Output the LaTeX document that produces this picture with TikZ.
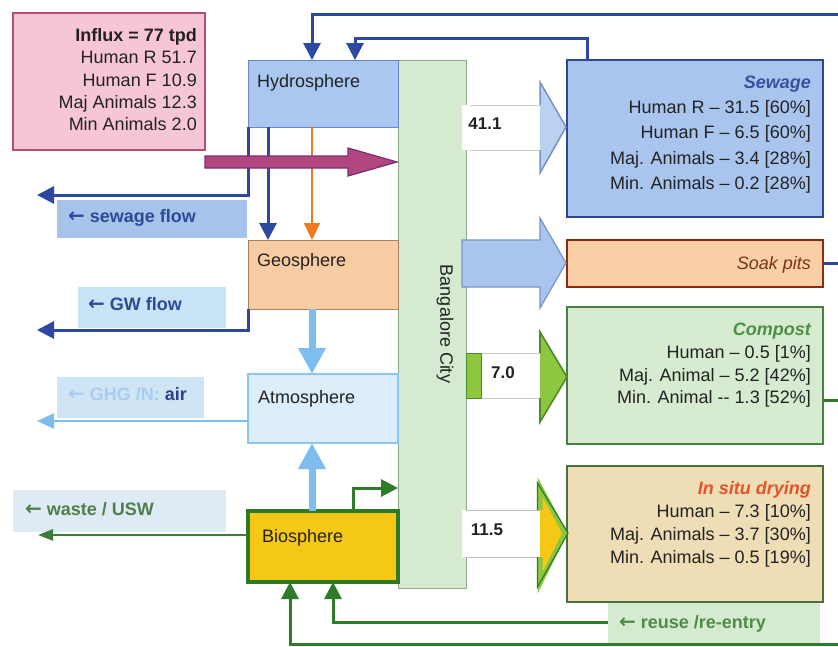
\documentclass[tikz,border=0pt]{standalone}
\usepackage{fontspec}
\setmainfont{Liberation Sans}
\newfontfamily\arrowfont{DejaVu Sans}
\newcommand\myleftarrow{{\arrowfont\fontsize{20}{20}\selectfont ←}}
\usetikzlibrary{arrows.meta}
\definecolor{pinkf}{HTML}{F6C6D7}\definecolor{pinkd}{HTML}{B4506F}
\definecolor{hydrof}{HTML}{A9C7EF}\definecolor{hydrod}{HTML}{6A86BF}
\definecolor{cityf}{HTML}{D5EAD0}\definecolor{cityd}{HTML}{8FA98A}
\definecolor{geof}{HTML}{F8CCA3}\definecolor{geod}{HTML}{A8825F}
\definecolor{atmf}{HTML}{DCEDFB}\definecolor{atmd}{HTML}{8AC6F2}
\definecolor{biof}{HTML}{F5C816}\definecolor{biod}{HTML}{2E7A24}
\definecolor{sewf}{HTML}{A9C5EE}\definecolor{sewd}{HTML}{2D4794}
\definecolor{soakf}{HTML}{F9D0A6}\definecolor{soakd}{HTML}{8A2B12}
\definecolor{compf}{HTML}{D6EBD0}\definecolor{compd}{HTML}{4B7E45}
\definecolor{situf}{HTML}{EEDDB5}\definecolor{situd}{HTML}{46713B}
\definecolor{dblue}{HTML}{2C48A0}\definecolor{orng}{HTML}{F07A22}
\definecolor{lblue}{HTML}{7DBDF0}\definecolor{dgreen}{HTML}{2E7B2B}
\definecolor{ygreen}{HTML}{8DC63F}\definecolor{ygreend}{HTML}{4E8A2A}
\definecolor{sewlf}{HTML}{A6C3EC}\definecolor{gwlf}{HTML}{C8E2F6}
\definecolor{ghglf}{HTML}{CFE5F6}\definecolor{wastelf}{HTML}{DEEBF5}
\definecolor{reuself}{HTML}{D5EBD0}
\definecolor{sewtext}{HTML}{2C4A98}\definecolor{wastetext}{HTML}{4F7E4B}
\definecolor{reusetext}{HTML}{4E8B45}\definecolor{ghgfaint}{HTML}{A8CDEE}
\definecolor{ghgdark}{HTML}{2E3F8F}
\definecolor{sewtitle}{HTML}{3A4FA2}\definecolor{comptitle}{HTML}{4E8F46}
\definecolor{situtitle}{HTML}{E4532B}\definecolor{soaktitle}{HTML}{7B3414}
\definecolor{purf}{HTML}{B2477F}\definecolor{purd}{HTML}{7A2E72}
\definecolor{txtc}{HTML}{222222}
\tikzset{
  sq/.style={draw, anchor=north west, inner sep=0pt, outer sep=0pt},
  lbl/.style={anchor=north west, inner sep=0pt, outer sep=0pt},
  t/.style={font=\fontsize{18}{21}\selectfont, inner sep=0pt, text=txtc},
  tr/.style={t, anchor=base east},
  tl/.style={t, anchor=base west},
  tlab/.style={tl, font=\fontsize{18}{21}\selectfont\bfseries},
  dline/.style={draw=dblue, line width=3pt},
  darr/.style={dline, -{Triangle[length=17pt,width=17pt]}},
  oarr/.style={draw=orng, line width=2pt, -{Triangle[length=17pt,width=16pt]}},
  gline/.style={draw=dgreen, line width=3pt},
  garr/.style={gline, -{Triangle[length=17pt,width=17pt]}},
  warr/.style={draw=dgreen!85!gray, line width=2.5pt, -{Triangle[length=15pt,width=11pt]}},
  larr/.style={draw=lblue, line width=2.5pt, -{Triangle[length=17pt,width=15pt]}},
  bigarr/.style={draw=lblue, line width=7pt, -{Triangle[length=26pt,width=26pt]}},
}
\begin{document}
\begin{tikzpicture}[x=1pt,y=-1pt]
\fill[white] (0,0) rectangle (838,646);
\useasboundingbox (0,0) rectangle (838,646);

% label boxes
\node[lbl, fill=sewlf, minimum width=190pt, minimum height=38pt] (sewlbl) at (57,200) {};
\node[lbl, fill=gwlf, minimum width=148pt, minimum height=41pt] (gwlbl) at (78,287) {};
\node[lbl, fill=ghglf, minimum width=147pt, minimum height=41pt] (ghglbl) at (57,377) {};
\node[lbl, fill=wastelf, minimum width=213pt, minimum height=42pt] (wastelbl) at (13,490) {};
\node[lbl, fill=reuself, minimum width=212pt, minimum height=41pt] (reuselbl) at (608,602) {};

% main boxes
\node[sq, fill=pinkf, draw=pinkd, line width=1.5pt, minimum width=192pt, minimum height=137pt] (influx) at (13,13) {};
\node[sq, fill=cityf, draw=cityd, line width=1pt, minimum width=68pt, minimum height=528pt] (city) at (398,60) {};
\node[sq, fill=hydrof, draw=hydrod, line width=1pt, minimum width=150pt, minimum height=67pt] (hydro) at (248,60) {};
\node[sq, fill=geof, draw=geod, line width=1pt, minimum width=150pt, minimum height=69pt] (geo) at (248,240) {};
\node[sq, fill=atmf, draw=atmd, line width=2pt, minimum width=150pt, minimum height=69pt] (atm) at (248,374) {};
\node[sq, fill=biof, draw=biod, line width=4pt, minimum width=150pt, minimum height=71pt] (bio) at (248,511) {};
\node[sq, fill=sewf, draw=sewd, line width=2.5pt, minimum width=256pt, minimum height=157pt] (sew) at (567,60) {};
\node[sq, fill=soakf, draw=soakd, line width=2.5pt, minimum width=256pt, minimum height=47pt] (soak) at (567,240) {};
\node[sq, fill=compf, draw=compd, line width=2.5pt, minimum width=256pt, minimum height=137pt] (comp) at (567,307) {};
\node[sq, fill=situf, draw=situd, line width=2.5pt, minimum width=256pt, minimum height=136pt] (situ) at (567,466) {};

% connector coordinates
\coordinate (sewend) at (37,195);
\coordinate (gwend) at (37,330);
\coordinate (ghgend) at (37,421);
\coordinate (wasteend) at (38,535);
\coordinate (geoin1) at (268,240);
\coordinate (geoin2) at (312,240);
\coordinate (hin1) at (312,60);
\coordinate (hin2) at (355,60);
\coordinate (topR) at (838,14);
\coordinate (sewtop) at (587,60);
\coordinate (bioout) at (353,511);
\coordinate (cityin) at (398,488);
\coordinate (compR) at (838,400);
\coordinate (bioin1) at (333,582);
\coordinate (bioin2) at (290,582);
\coordinate (botR) at (838,644);

% connectors
\draw[darr] (hydro.south west) |- (sewend);
\draw[darr] (hydro.south -| geoin1) -- (geoin1);
\draw[oarr] (hydro.south -| geoin2) -- (geoin2);
\draw[darr] (geo.south west) |- (gwend);
\draw[bigarr] (geo.south -| geoin2) -- (atm.north -| geoin2);
\draw[bigarr] (bio.north -| geoin2) -- (atm.south -| geoin2);
\draw[larr] (atm.west |- ghgend) -- (ghgend);
\draw[warr] (bio.west |- wasteend) -- (wasteend);
\draw[garr] (bioout) |- (cityin);
\draw[darr] (topR) -| (hin1);
\draw[darr] (sewtop) -- ++(0,-22) -| (hin2);
\draw[dline] (soak.east) -- ++(16,0);
\draw[gline] (compR -| comp.east) -- (compR);
\draw[garr] (reuselbl.west) -| (bioin1);
\draw[garr] (botR) -| (bioin2);

% purple influx arrow
\path[fill=purf, draw=purd, line width=1.2pt, line join=miter]
  (influx.east |- 0,156) -- (348,156) -- (348,148) -- (397,162) -- (348,176) -- (348,168) -- (influx.east |- 0,168) -- cycle;

% block arrow 41.1
\fill[white] (462,105) rectangle (540,150);
\path[draw=black!20, line width=0.8pt] (470,105) -- (540,105) (470,150) -- (540,150);
\path[fill=sewf!80!white, draw=hydrod!90, line width=1.5pt, line join=miter]
  (540,105) -- (540,82) -- (566,127) -- (540,173) -- (540,150);
% block arrow soak pits
\path[fill=sewf, draw=hydrod!90, line width=1.2pt, line join=miter]
  (462,240) -- (540,240) -- (540,218) -- (566,263) -- (540,308) -- (540,287) -- (462,287) -- cycle;
% block arrow 7.0
\fill[white] (466,353) rectangle (540,398);
\draw[black!20, line width=0.8pt] (481,353) -- (540,353) (481,398) -- (540,398);
\path[fill=ygreen, draw=ygreend, line width=1pt] (466,353) rectangle (481,398);
\path[fill=ygreen, draw=ygreend, line width=1.6pt, line join=miter]
  (540,353) -- (540,332) -- (567,377) -- (540,422) -- (540,398);
% block arrow 11.5
\fill[white] (462,510) rectangle (540,557);
\draw[black!25, line width=0.8pt] (466,510) -- (540,510) (466,557) -- (540,557);
\path[fill=biof, draw=ygreen, line width=5pt, line join=miter]
  (540,510) -- (540,487) -- (565,533) -- (540,583) -- (540,557);
\path[draw=dgreen, line width=1.2pt, line join=miter]
  (537.5,510) -- (537.5,483) -- (568,533) -- (537.5,587) -- (537.5,557);

% texts: influx
\node[tr, font=\fontsize{18}{21}\selectfont\bfseries] (inf1) at (197,41) {Influx = 77 tpd};
\node[tr] (inf2) at (197,63) {Human R 51.7};
\node[tr] (inf3) at (197,86) {Human F 10.9};
\node[tr] (inf4) at (197,108) {Maj Animals 12.3};
\node[tr] (inf5) at (197,130) {Min Animals 2.0};

% sphere texts
\node[tl] (hydrotxt) at (257,87) {Hydrosphere};
\node[tl] (geotxt) at (257,266) {Geosphere};
\node[tl] (atmtxt) at (258,403) {Atmosphere};
\node[tl] (biotxt) at (262,542) {Biosphere};
\node[t, rotate=-90] (citytxt) at (445,324) {Bangalore City};

% flow labels
\node[tlab, text=sewtext] (sewtxt) at (68,222) {\myleftarrow\ sewage flow};
\node[tlab, text=sewtext] (gwtxt) at (88,310) {\myleftarrow\ GW flow};
\node[tlab, text=ghgfaint] (ghgtxt) at (68,400) {\myleftarrow\ GHG /N: \textcolor{ghgdark}{air}};
\node[tlab, text=wastetext] (wastetxt) at (25,515) {\myleftarrow\ waste / USW};
\node[tlab, text=reusetext] (reusetxt) at (619,628) {\myleftarrow\ reuse /re-entry};

% numbers
\node[t, font=\fontsize{17}{20}\selectfont\bfseries] (n411) at (485,124) {41.1};
\node[t, font=\fontsize{17}{20}\selectfont\bfseries] (n70) at (503,373) {7.0};
\node[t, font=\fontsize{17}{20}\selectfont\bfseries] (n115) at (487,530) {11.5};

% sewage texts
\node[tr, text=sewtitle, font=\fontsize{18}{21}\selectfont\bfseries\itshape] (sw0) at (811,88) {Sewage};
\node[tr] (sw1) at (811,113) {Human R – 31.5 [60\%]};
\node[tr] (sw2) at (811,138) {Human F – 6.5 [60\%]};
\node[tr] (sw3) at (811,164) {Maj. Animals – 3.4 [28\%]};
\node[tr] (sw4) at (811,189) {Min. Animals – 0.2 [28\%]};

% soak pits
\node[tr, text=soaktitle, font=\fontsize{18}{21}\selectfont\itshape] (sp0) at (811,269) {Soak pits};

% compost
\node[tr, text=comptitle, font=\fontsize{18}{21}\selectfont\bfseries\itshape] (cp0) at (811,335) {Compost};
\node[tr] (cp1) at (811,358) {Human – 0.5 [1\%]};
\node[tr] (cp2) at (811,381) {Maj. Animal – 5.2 [42\%]};
\node[tr] (cp3) at (811,403) {Min. Animal -{}- 1.3 [52\%]};

% in situ
\node[tr, text=situtitle, font=\fontsize{18}{21}\selectfont\bfseries\itshape] (is0) at (811,494) {In situ drying};
\node[tr] (is1) at (811,517) {Human – 7.3 [10\%]};
\node[tr] (is2) at (811,540) {Maj. Animals – 3.7 [30\%]};
\node[tr] (is3) at (811,563) {Min. Animals – 0.5 [19\%]};
\end{tikzpicture}
\end{document}
